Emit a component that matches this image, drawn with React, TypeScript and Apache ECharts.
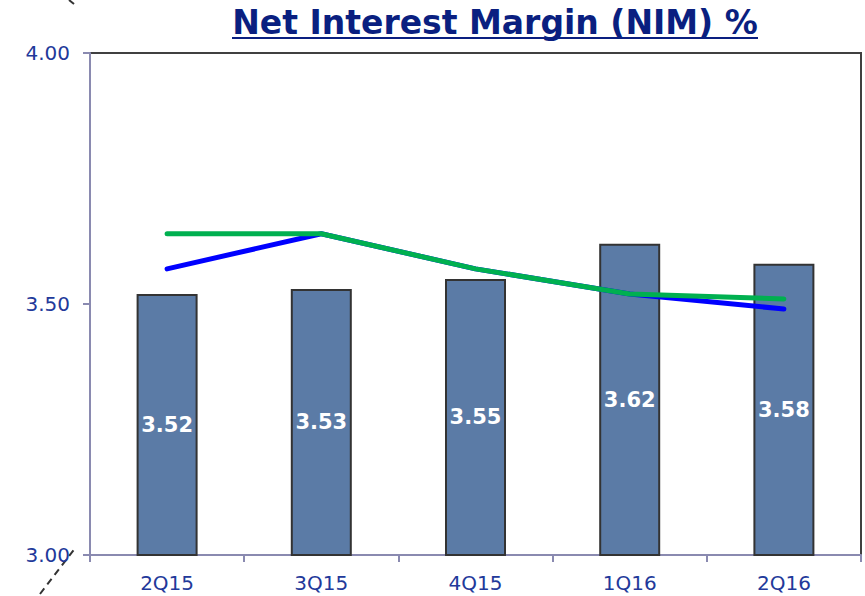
import React, { useEffect, useRef } from "react";
import * as echarts from "echarts";

const categories = ["2Q15", "3Q15", "4Q15", "1Q16", "2Q16"];
const nimValues = [3.52, 3.53, 3.55, 3.62, 3.58];
const blueLine = [3.57, 3.64, 3.57, 3.52, 3.49];
const greenLine = [3.64, 3.64, 3.57, 3.52, 3.51];
const titleText = "Net Interest Margin (NIM) %";

const NAVY = "#22399a";
const AXIS = "#8a8ab0";

export default function App() {
  const ref = useRef<HTMLDivElement>(null);
  useEffect(() => {
    if (!ref.current) return;
    const chart = echarts.init(ref.current, null, { renderer: "svg" });
    chart.setOption({
      animation: false,
      backgroundColor: "#ffffff",
      grid: {
        left: 90,
        top: 53,
        right: 4,
        bottom: 41,
        show: true,
        borderColor: "#404040",
        borderWidth: 2,
        outerBoundsMode: "none",
      },
      xAxis: {
        type: "category",
        data: categories,
        boundaryGap: true,
        axisLine: { show: true, lineStyle: { color: AXIS, width: 2 } },
        axisTick: { show: true, length: 7, lineStyle: { color: AXIS, width: 2 } },
        axisLabel: {
          color: NAVY,
          fontSize: 20,
          fontFamily: "DejaVu Sans",
          margin: 18,
        },
        splitLine: { show: false },
      },
      yAxis: {
        type: "value",
        min: 3,
        max: 4,
        interval: 0.5,
        axisLine: { show: true, lineStyle: { color: AXIS, width: 2 } },
        axisTick: { show: true, length: 7, lineStyle: { color: AXIS, width: 2 } },
        axisLabel: {
          color: NAVY,
          fontSize: 20,
          fontFamily: "DejaVu Sans",
          margin: 20,
          formatter: (v: number) => v.toFixed(2),
        },
        splitLine: { show: false },
      },
      series: [
        {
          type: "bar",
          data: nimValues,
          barWidth: 61,
          itemStyle: { color: "#5b7ba6", borderColor: "#333333", borderWidth: 2 },
          label: {
            show: true,
            position: "inside",
            color: "#ffffff",
            fontSize: 21,
            fontWeight: "bold",
            fontFamily: "DejaVu Sans",
            formatter: (p: any) => p.value.toFixed(2),
          },
          z: 2,
        },
        {
          type: "line",
          data: blueLine,
          symbol: "none",
          lineStyle: { color: "#0000ff", width: 5, cap: "round" },
          z: 3,
        },
        {
          type: "line",
          data: greenLine,
          symbol: "none",
          lineStyle: { color: "#00b050", width: 5, cap: "round" },
          z: 4,
        },
      ],
      graphic: [
        {
          type: "text",
          x: 495,
          y: 22,
          style: {
            text: titleText,
            fill: "#0a1f80",
            font: "bold 33px 'DejaVu Sans'",
            textAlign: "center",
            textVerticalAlign: "middle",
          },
        },
        {
          type: "line",
          shape: { x1: 232, y1: 38, x2: 758, y2: 38 },
          style: { stroke: "#0a1f80", lineWidth: 2 },
        },
        {
          type: "line",
          shape: { x1: 40, y1: 594, x2: 76, y2: 547 },
          style: { stroke: "#333333", lineWidth: 2, lineDash: [7, 5] },
        },
        {
          type: "line",
          shape: { x1: 69, y1: 0, x2: 74, y2: 4 },
          style: { stroke: "#333333", lineWidth: 2 },
        },
      ],
    });
    return () => chart.dispose();
  }, []);
  return (
    <div
      ref={ref}
      style={{ position: "fixed", left: 0, top: 0, width: 865, height: 596 }}
    />
  );
}
